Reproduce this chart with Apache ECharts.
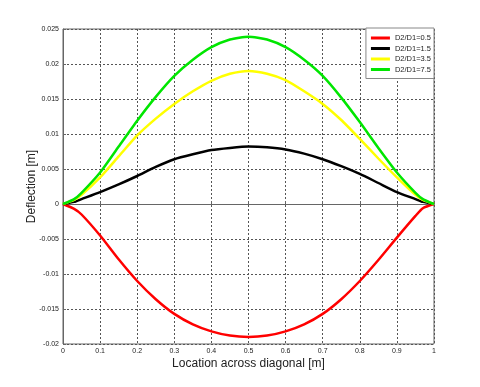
<!DOCTYPE html>
<html>
<head>
<meta charset="utf-8">
<script src="https://cdn.jsdelivr.net/npm/echarts@6/dist/echarts.min.js"></script>
<style>
html, body { margin: 0; padding: 0; background: #fff; }
#chart { width: 480px; height: 387px; }
</style>
</head>
<body>
<div id="chart"></div>
<script>
// location across diagonal [m]
var xs = [0, 0.03, 0.05, 0.1, 0.15, 0.2, 0.25, 0.3, 0.35, 0.4, 0.45, 0.5,
          0.55, 0.6, 0.65, 0.7, 0.75, 0.8, 0.85, 0.9, 0.95, 0.97, 1];

var names = ['D2/D1=0.5', 'D2/D1=1.5', 'D2/D1=3.5', 'D2/D1=7.5'];
var colors = ['#ff0000', '#000000', '#ffff00', '#00e600'];

var red = [0, -0.0007, -0.0015, -0.0045, -0.0079, -0.0110, -0.0136, -0.0157, -0.0172, -0.0182, -0.0188, -0.0190,
           -0.0188, -0.0182, -0.0172, -0.0157, -0.0136, -0.0110, -0.0080, -0.0048, -0.0017, -0.0006, 0];
var black = [0, 0.0003, 0.0007, 0.0017, 0.0028, 0.0040, 0.0053, 0.0064, 0.0071, 0.0077, 0.0080, 0.0082,
             0.0081, 0.0078, 0.0072, 0.0064, 0.0054, 0.0043, 0.0030, 0.0017, 0.0007, 0.0003, 0];
var yellow = [0, 0.0006, 0.0013, 0.0038, 0.0068, 0.0098, 0.0122, 0.0143, 0.0161, 0.0176, 0.0186, 0.0190,
              0.0186, 0.0177, 0.0161, 0.0143, 0.0120, 0.0093, 0.0065, 0.0038, 0.0013, 0.0006, 0];
var green = [0, 0.0007, 0.0016, 0.0045, 0.0082, 0.0119, 0.0153, 0.0183, 0.0206, 0.0224, 0.0235, 0.0239,
             0.0235, 0.0224, 0.0206, 0.0183, 0.0152, 0.0117, 0.0080, 0.0045, 0.0016, 0.0007, 0];

var allY = [red, black, yellow, green];

function pairs(ys) {
    var out = [];
    for (var i = 0; i < xs.length; i++) {
        out.push([xs[i], ys[i]]);
    }
    return out;
}

var series = [];
for (var k = 0; k < names.length; k++) {
    series.push({
        name: names[k],
        type: 'line',
        data: pairs(allY[k]),
        showSymbol: false,
        symbol: 'none',
        smooth: 0.2,
        lineStyle: { color: colors[k], width: 2.5 },
        itemStyle: { color: colors[k] }
    });
}

var gridLine = { show: true, lineStyle: { color: '#555', type: [2, 2], width: 1 } };

var myChart = echarts.init(document.getElementById('chart'));
var option = {
    backgroundColor: '#fff',
    animation: false,
    textStyle: { fontFamily: 'Arial, "Liberation Sans", sans-serif' },
    grid: {
        left: 63, right: 46, top: 29, bottom: 43,
        show: true, borderColor: '#666', borderWidth: 1, backgroundColor: '#fff'
    },
    legend: {
        orient: 'vertical',
        right: 46, top: 28,
        data: names,
        icon: 'rect',
        backgroundColor: '#fff',
        borderColor: '#888', borderWidth: 1,
        padding: [6, 3, 5, 5],
        itemGap: 2.5,
        itemWidth: 19, itemHeight: 3,
        textStyle: { fontSize: 7.5, color: '#222' }
    },
    xAxis: {
        type: 'value',
        min: 0, max: 1, interval: 0.1,
        name: 'Location across diagonal [m]',
        nameLocation: 'middle',
        nameGap: 14,
        nameMoveOverlap: false,
        nameTextStyle: { fontSize: 12, color: '#222', verticalAlign: 'top' },
        axisLine: { show: true, lineStyle: { color: '#666' } },
        axisTick: { show: true, inside: true, length: 3, lineStyle: { color: '#666' } },
        axisLabel: { fontSize: 7, color: '#222', margin: 4 },
        splitLine: gridLine
    },
    yAxis: {
        type: 'value',
        min: -0.02, max: 0.025, interval: 0.005,
        name: 'Deflection [m]',
        nameLocation: 'middle',
        nameGap: 25,
        nameMoveOverlap: false,
        nameRotate: 90,
        nameTextStyle: { fontSize: 12, color: '#222' },
        axisLine: { show: true, lineStyle: { color: '#666' } },
        axisTick: { show: true, inside: true, length: 3, lineStyle: { color: '#666' } },
        axisLabel: { fontSize: 7, color: '#222', margin: 4 },
        splitLine: gridLine
    },
    series: series
};

if (option && typeof option === "object") {
    myChart.setOption(option, true);
}
</script>
</body>
</html>
